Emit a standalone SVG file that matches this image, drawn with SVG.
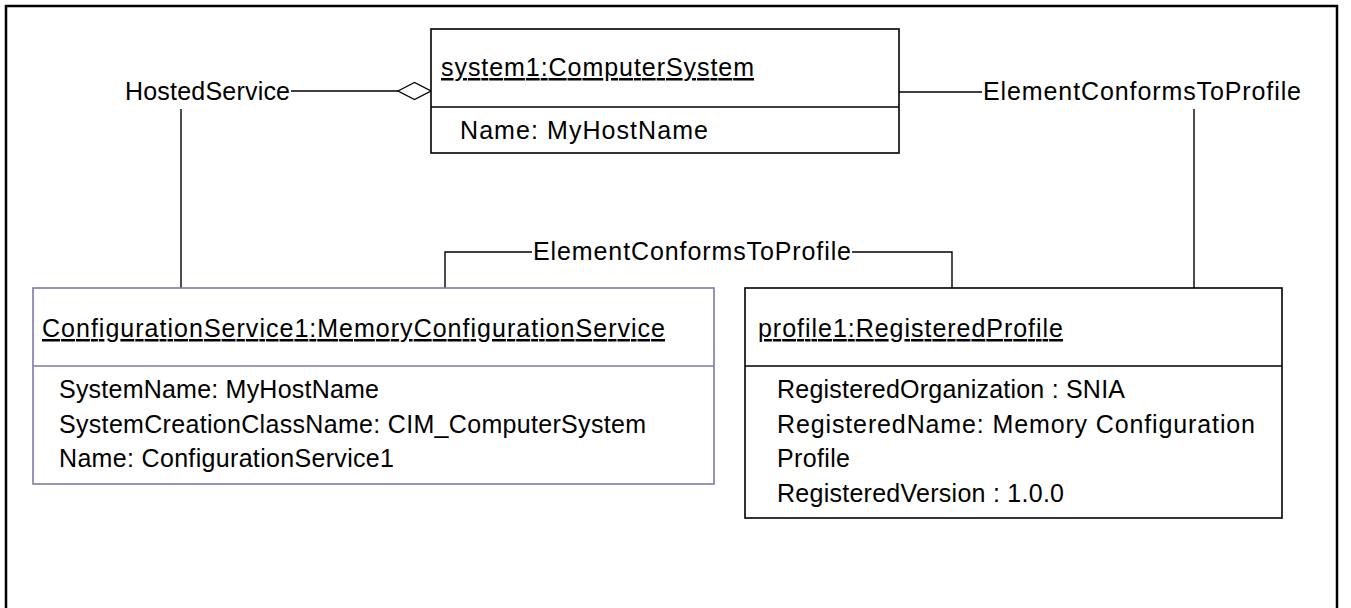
<svg xmlns="http://www.w3.org/2000/svg" width="1351" height="608" viewBox="0 0 1351 608">
<style>
  text { font-family: "Liberation Sans", Arial, sans-serif; font-size: 25px; fill: #000; }
  .t { text-decoration: underline; }
  .box { fill: #fff; stroke: #000; stroke-width: 1.6; }
  .pbox { fill: #fff; stroke: #7e7aa8; stroke-width: 1.6; }
  .div { stroke: #000; stroke-width: 1.6; }
  .pdiv { stroke: #7e7aa8; stroke-width: 1.6; }
  .c { fill: none; stroke: #000; stroke-width: 1.4; }
</style>
<rect x="0" y="0" width="1351" height="608" fill="#fff"/>
<rect x="6" y="6" width="1331" height="640" fill="none" stroke="#000" stroke-width="2.5"/>

<g id="connectors">
  <line class="c" x1="291" y1="91" x2="398" y2="91"/>
  <polygon class="c" points="398,91 414.5,82.5 431,91 414.5,99.5" fill="#fff"/>
  <line class="c" x1="181" y1="109" x2="181" y2="288"/>
  <line class="c" x1="899" y1="92" x2="982" y2="92"/>
  <line class="c" x1="1194" y1="109" x2="1194" y2="288"/>
  <polyline class="c" points="445,288 445,252 532,252"/>
  <polyline class="c" points="852,252 952,252 952,288"/>
  <text x="125" y="100" textLength="165">HostedService</text>
  <text x="983" y="100" textLength="318">ElementConformsToProfile</text>
  <text x="533" y="260" textLength="318">ElementConformsToProfile</text>
</g>

<g id="system1">
  <rect class="box" x="431" y="29" width="468" height="124"/>
  <line class="div" x1="431" y1="107" x2="899" y2="107"/>
  <text class="t" x="441" y="76" textLength="313">system1:ComputerSystem</text>
  <text x="460" y="139" textLength="248">Name: MyHostName</text>
</g>

<g id="configurationService1">
  <rect class="pbox" x="33" y="288" width="681" height="196"/>
  <line class="pdiv" x1="33" y1="366" x2="714" y2="366"/>
  <text class="t" x="42" y="337" textLength="623">ConfigurationService1:MemoryConfigurationService</text>
  <text x="59" y="398" textLength="320">SystemName: MyHostName</text>
  <text x="59" y="433" textLength="587">SystemCreationClassName: CIM_ComputerSystem</text>
  <text x="59" y="467" textLength="335">Name: ConfigurationService1</text>
</g>

<g id="profile1">
  <rect class="box" x="745" y="288" width="537" height="230"/>
  <line class="div" x1="745" y1="366" x2="1282" y2="366"/>
  <text class="t" x="758" y="337" textLength="305">profile1:RegisteredProfile</text>
  <text x="777" y="398" textLength="348">RegisteredOrganization : SNIA</text>
  <text x="777" y="433" textLength="478">RegisteredName: Memory Configuration</text>
  <text x="777" y="467" textLength="73">Profile</text>
  <text x="777" y="502" textLength="287">RegisteredVersion : 1.0.0</text>
</g>
</svg>
